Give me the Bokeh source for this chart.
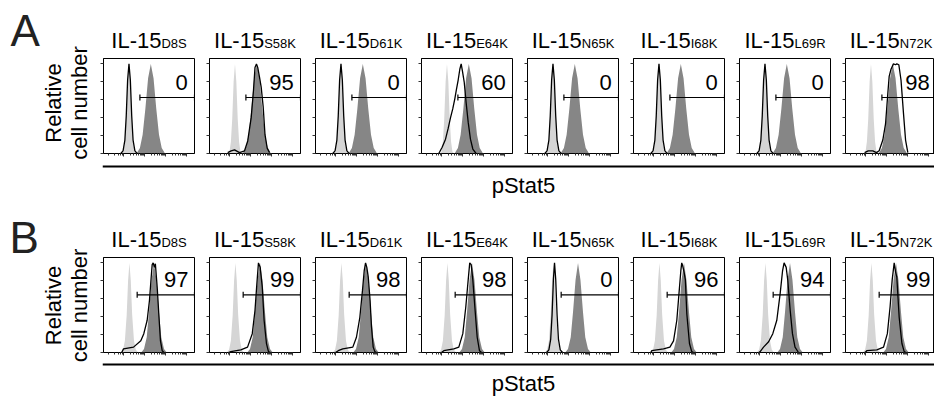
import math
from bokeh.plotting import figure
from bokeh.models import Range1d, FixedTicker, Label, Span
from bokeh.layouts import row, column
from bokeh.embed import file_html
from bokeh.resources import INLINE

FONT = "Liberation Sans"

# ---------------- data ----------------
MUTANTS = ["D8S", "S58K", "D61K", "E64K", "N65K", "I68K", "L69R", "N72K"]
PCT_A = [0, 95, 0, 60, 0, 0, 0, 98]
PCT_B = [97, 99, 98, 98, 0, 96, 94, 99]
PANEL_LETTERS = ["A", "B"]
Y_LABEL = ["Relative", "cell number"]
X_LABEL = "pStat5"

# histograms: x = pStat5 display channel (0-1000), y = % of max
LIGHT_A_X = [200, 220, 235, 250, 265, 280, 295, 310, 325, 340, 360]
LIGHT_A_Y = [0, 2, 13, 39, 80, 100, 80, 39, 13, 2, 0]
DARK_A_X = [370, 400, 430, 460, 490, 520, 550, 580, 610, 640, 670]
DARK_A_Y = [1, 6, 21, 50, 84, 100, 84, 50, 21, 6, 1]
NEG_A_X = [190, 215, 235, 250, 265, 280, 295, 310, 325, 345, 370]
NEG_A_Y = [0, 3, 15, 42, 82, 100, 82, 42, 15, 3, 0]
S58K_A_X = [200, 238, 275, 330, 385, 420, 458, 483, 500, 516, 530, 550, 568, 590, 610, 634, 660]
S58K_A_Y = [1, 3, 4, 1, 3, 14, 40, 70, 96, 100, 96, 85, 74, 52, 21, 6, 1]
E64K_A_X = [190, 227, 264, 293, 319, 344, 366, 385, 403, 421, 436, 450, 469, 490, 513, 538, 564, 600]
E64K_A_Y = [0, 7, 16, 28, 40, 50, 61, 72, 82, 94, 100, 92, 80, 57, 35, 16, 5, 0]
N72K_A_X = [210, 250, 300, 340, 370, 410, 440, 465, 480, 500, 527, 550, 564, 586, 610, 637, 660, 685]
N72K_A_Y = [1, 3, 3, 1, 3, 15, 33, 67, 86, 94, 100, 99, 100, 99, 82, 45, 15, 1]

LIGHT_B_X = [190, 215, 235, 255, 270, 285, 300, 315, 335, 355, 380]
LIGHT_B_Y = [0, 3, 13, 42, 80, 100, 80, 42, 13, 3, 0]
DARK_B_X = [415, 445, 475, 500, 528, 555, 582, 610, 635, 665, 695]
DARK_B_Y = [0, 4, 17, 45, 81, 100, 81, 45, 17, 4, 0]
NEG_B_X = [210, 235, 255, 270, 285, 297, 310, 325, 340, 360, 385]
NEG_B_Y = [0, 3, 15, 42, 82, 100, 82, 42, 15, 3, 0]
D8S_B_X = [200, 220, 330, 410, 443, 480, 505, 524, 535, 546, 560, 570, 590, 610, 626, 645, 665]
D8S_B_Y = [0, 4, 6, 13, 21, 36, 58, 84, 98, 100, 95, 99, 73, 39, 13, 2, 0]
S58K_B_X = [210, 234, 344, 418, 470, 500, 520, 538, 557, 580, 600, 626, 648, 670]
S58K_B_Y = [0, 1, 3, 6, 21, 47, 76, 100, 95, 73, 36, 10, 1, 0]
D61K_B_X = [220, 250, 300, 410, 450, 487, 516, 535, 550, 564, 580, 600, 615, 634, 652, 670]
D61K_B_Y = [0, 2, 4, 6, 17, 39, 69, 91, 100, 95, 84, 58, 29, 6, 1, 0]
E64K_B_X = [220, 245, 355, 410, 454, 487, 513, 530, 546, 564, 586, 612, 637, 660]
E64K_B_Y = [0, 2, 4, 6, 21, 51, 81, 100, 98, 81, 51, 17, 2, 0]
I68K_B_X = [190, 200, 330, 400, 440, 476, 500, 520, 530, 540, 555, 570, 586, 615, 640, 660]
I68K_B_Y = [0, 2, 4, 6, 13, 36, 66, 91, 100, 97, 90, 81, 43, 10, 1, 0]
L69R_B_X = [215, 227, 264, 320, 366, 410, 447, 473, 490, 513, 530, 557, 582, 610, 648]
L69R_B_Y = [0, 1, 6, 12, 21, 36, 66, 91, 100, 95, 81, 47, 21, 6, 0]
N72K_B_X = [215, 234, 344, 418, 460, 490, 513, 535, 550, 564, 590, 620, 645, 665]
N72K_B_Y = [0, 2, 3, 6, 21, 51, 81, 100, 90, 84, 39, 10, 1, 0]

BLACK_A = [(NEG_A_X, NEG_A_Y), (S58K_A_X, S58K_A_Y), (NEG_A_X, NEG_A_Y), (E64K_A_X, E64K_A_Y),
           (NEG_A_X, NEG_A_Y), (NEG_A_X, NEG_A_Y), (NEG_A_X, NEG_A_Y), (N72K_A_X, N72K_A_Y)]
BLACK_B = [(D8S_B_X, D8S_B_Y), (S58K_B_X, S58K_B_Y), (D61K_B_X, D61K_B_Y), (E64K_B_X, E64K_B_Y),
           (NEG_B_X, NEG_B_Y), (I68K_B_X, I68K_B_Y), (L69R_B_X, L69R_B_Y), (N72K_B_X, N72K_B_Y)]

GATE_START = [400, 370]
GATE_Y = [62.5, 64.3]

Y_TICKS = [0, 20, 40, 60, 80, 100]
X_MAJOR = [225, 455, 685, 915]
X_MINOR = [60, 120, 160, 190, 210] + [
    round(a + (b - a) * math.log10(k)) for a, b in [(225, 455), (455, 685), (685, 915)] for k in range(2, 10)
]

# ---------------- layout constants (px) ----------------
W = 934
PX = 91           # panel frame width
FH = 95           # panel frame height
XMAX = 1000
YMAX = 106
PITCH = 106
GAP = 14          # left border of panels 2..8 (room for ticks)
GAP0 = 8          # left border of the first panel
SIDE_W = 103 - GAP0
HEAD_H = [57, 58]
BOTTOM = 10
LIGHT = "#d5d5d5"
DARK = "#868686"
DESC = 0.37       # renderer sets the alphabetic baseline low by this fraction of the size; compensate

CW = {"I": 278, "L": 556, "-": 333, "1": 556, "5": 556, "D": 722, "8": 556, "S": 667, "K": 667,
      "6": 556, "E": 667, "4": 556, "N": 722, "9": 556, "R": 722, "7": 556, "2": 556}


def tw(s, size):
    return sum(CW[c] for c in s) / 1000.0 * size


def dy(px):
    return px * YMAX / FH


def base_fig(w, h, xr, yr):
    f = figure(width=w, height=h, x_range=Range1d(*xr), y_range=Range1d(*yr),
               min_border=0, min_border_left=0, min_border_right=0, min_border_top=0, min_border_bottom=0,
               toolbar_location=None, tools="", output_backend="svg")
    f.axis.visible = False
    f.grid.visible = False
    f.outline_line_color = None
    return f


def make_panel(r, i):
    last = i == 7
    fw = PX if not last else W - (103 + PITCH * 7)
    p = figure(frame_width=fw, frame_height=FH,
               x_range=Range1d(0, XMAX * fw / PX), y_range=Range1d(0, YMAX),
               min_border_left=GAP0 if i == 0 else GAP, min_border_right=0 if last else 1,
               min_border_top=1, min_border_bottom=BOTTOM,
               toolbar_location=None, tools="", output_backend="svg")
    p.grid.visible = False
    p.outline_line_color = "black"
    p.outline_line_width = 1

    xa = p.xaxis[0]
    xa.ticker = FixedTicker(ticks=X_MAJOR, minor_ticks=X_MINOR)
    xa.major_tick_out = 3
    xa.major_tick_in = 0
    xa.minor_tick_out = 2
    xa.minor_tick_in = 0
    xa.major_label_text_font_size = "0px"
    xa.major_label_text_color = None
    xa.major_label_standoff = 0
    xa.axis_line_color = "black"
    xa.major_tick_line_color = "#333333"
    xa.minor_tick_line_color = "#333333"

    ya = p.yaxis[0]
    ya.ticker = FixedTicker(ticks=Y_TICKS)
    ya.major_tick_out = 3
    ya.major_tick_in = 0
    ya.minor_tick_line_color = None
    ya.major_label_text_font_size = "0px"
    ya.major_label_text_color = None
    ya.major_label_standoff = 0
    ya.axis_line_color = "black"
    ya.major_tick_line_color = "#333333"

    if r == 0:
        lx, ly, dkx, dky, bl = LIGHT_A_X, LIGHT_A_Y, DARK_A_X, DARK_A_Y, BLACK_A[i]
        pct = PCT_A[i]
    else:
        lx, ly, dkx, dky, bl = LIGHT_B_X, LIGHT_B_Y, DARK_B_X, DARK_B_Y, BLACK_B[i]
        pct = PCT_B[i]

    p.varea(x=lx, y1=[0] * len(lx), y2=ly, fill_color=LIGHT)
    p.varea(x=dkx, y1=[0] * len(dkx), y2=dky, fill_color=DARK)
    p.line(x=bl[0], y=bl[1], line_color="black", line_width=1.3)

    # gate marker
    g0, gy = GATE_START[r], GATE_Y[r]
    tick = dy(3)
    p.segment(x0=[g0, g0, XMAX], y0=[gy, gy - tick, gy - tick], x1=[XMAX, g0, XMAX], y1=[gy, gy + tick, gy + tick],
              line_color="black", line_width=1.2)
    base = 70.3 if r == 0 else 72
    p.add_layout(Label(x=925 if r == 0 else 935, y=base + dy(DESC * 22), text=str(pct),
                       text_font=FONT, text_font_size="22px", text_align="right",
                       text_baseline="alphabetic", text_color="black"))
    return p


def make_header(r):
    h = HEAD_H[r]
    f = base_fig(W - SIDE_W, h, (SIDE_W, W), (0, h))
    for i, suf in enumerate(MUTANTS):
        cx = 103 + PITCH * i + PX / 2
        wm = tw("IL-15", 22)
        ws = tw(suf, 13)
        split = cx + (wm - ws) / 2
        f.add_layout(Label(x=split, y=9.3 + DESC * 22, text="IL-15", text_font=FONT, text_font_size="22px",
                           text_align="right", text_baseline="alphabetic", text_color="black"))
        f.add_layout(Label(x=split, y=9.3 + DESC * 13, text=suf, text_font=FONT, text_font_size="13px",
                           text_align="left", text_baseline="alphabetic", text_color="black"))
    return f


def make_side(r):
    h = HEAD_H[r] + 1 + FH + BOTTOM
    f = base_fig(SIDE_W, h, (0, SIDE_W), (0, h))
    if r == 0:
        letter_x, letter_y, lab_y = 10, h - 46.7, h - 102.5
    else:
        letter_x, letter_y, lab_y = 9, h - (253.3 - 198), h - (305 - 198)
    f.add_layout(Label(x=letter_x, y=letter_y + DESC * 44, text=PANEL_LETTERS[r], text_font=FONT,
                       text_font_size="44px", text_align="left", text_baseline="alphabetic",
                       text_color="#222222"))
    f.add_layout(Label(x=61 - DESC * 22, y=lab_y, text=Y_LABEL[0], angle=math.pi / 2, text_font=FONT,
                       text_font_size="22px", text_align="center", text_baseline="alphabetic",
                       text_color="black"))
    f.add_layout(Label(x=87.3 - DESC * 22, y=lab_y, text=Y_LABEL[1], angle=math.pi / 2, text_font=FONT,
                       text_font_size="22px", text_align="center", text_baseline="alphabetic",
                       text_color="black"))
    return f


def make_footer(h, rule_y, label_y):
    f = base_fig(W, h, (0, W - 102), (0, h))
    f.min_border_left = 102
    f.add_layout(Span(location=rule_y, dimension="width", line_color="black", line_width=2))
    f.add_layout(Label(x=523 - 102, y=label_y + DESC * 22, text=X_LABEL, text_font=FONT, text_font_size="22px",
                       text_align="center", text_baseline="alphabetic", text_color="black"))
    return f


def block(r):
    panels = row(*[make_panel(r, i) for i in range(8)])
    return row(make_side(r), column(make_header(r), panels))


layout = column(block(0), make_footer(35, 32, 5), block(1), make_footer(34, 32, 4.5))
open("out.html", "w").write(file_html(layout, INLINE))
